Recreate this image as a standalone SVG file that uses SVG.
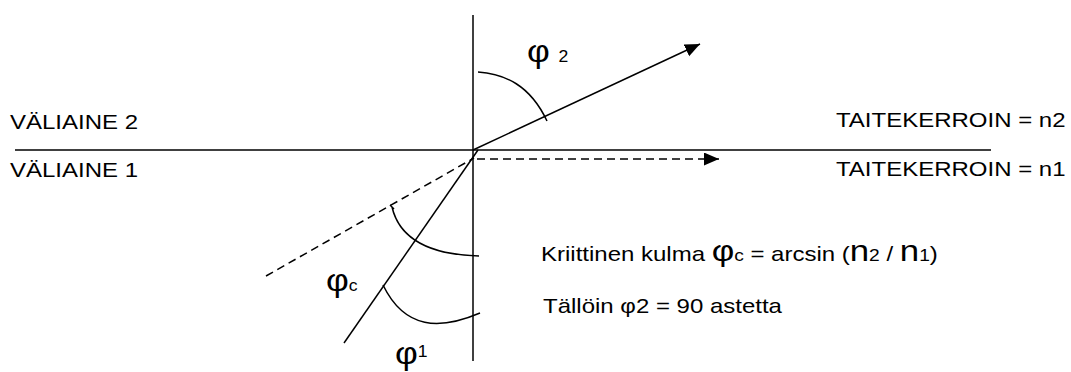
<svg xmlns="http://www.w3.org/2000/svg" width="1071" height="372" viewBox="0 0 1071 372">
  <style>
    .ln { stroke: #000; stroke-width: 1.5; fill: none; }
    .dash { stroke: #000; stroke-width: 1.5; fill: none; stroke-dasharray: 8 5; }
    .t { font-family: "Liberation Sans", Arial, sans-serif; font-size: 20px; fill: #000; }
    .big { font-size: 29px; }
    .lbl { font-size: 32px; }
    .sub { font-size: 16px; }
  </style>
  <defs>
    <marker id="arrow" markerUnits="userSpaceOnUse" markerWidth="16" markerHeight="14" refX="15" refY="6.5" orient="auto">
      <path d="M0,0 L15,6.5 L0,13 Z" fill="#000"/>
    </marker>
  </defs>
  <rect width="1071" height="372" fill="#fff"/>

  <g id="axes">
    <line class="ln" x1="15" y1="150" x2="991" y2="150"/>
    <line class="ln" x1="473" y1="15" x2="473" y2="361"/>
  </g>

  <g id="connectors">
    <line id="refracted" class="ln" x1="473" y1="150" x2="700" y2="44" marker-end="url(#arrow)"/>
    <line id="grazing" class="dash" x1="477" y1="159" x2="719" y2="159" marker-end="url(#arrow)"/>
    <line id="incident" class="ln" x1="344" y1="343" x2="478" y2="150"/>
    <line id="critical" class="dash" x1="266" y1="276" x2="474" y2="158"/>
  </g>

  <g id="angle-arcs">
    <path id="arc-phi2" class="ln" d="M478,72 C505,74 530,85 547,121"/>
    <path id="arc-phic" class="ln" d="M390,205 L394,209 M392,207 Q403,254 479,256"/>
    <path id="arc-phi1" class="ln" d="M383,285 C405,330 440,330 480,313"/>
  </g>

  <g id="labels">
    <text class="t" transform="translate(10,129) scale(1.2,1)">VÄLIAINE 2</text>
    <text class="t" transform="translate(10,177) scale(1.2,1)">VÄLIAINE 1</text>
    <text class="t" transform="translate(836,127) scale(1.2,1)">TAITEKERROIN = n2</text>
    <text class="t" transform="translate(836,176) scale(1.2,1)">TAITEKERROIN = n1</text>
    <text class="t" transform="translate(527,62) scale(1.1,1)"><tspan class="lbl">φ</tspan><tspan class="sub" dx="8">2</tspan></text>
    <text class="t" transform="translate(326,291) scale(1.1,1)"><tspan class="lbl">φ</tspan><tspan class="sub">c</tspan></text>
    <text class="t" transform="translate(395,364) scale(1.1,1)"><tspan class="lbl">φ</tspan><tspan class="sub" dy="-7">1</tspan></text>
    <text class="t" transform="translate(541,261) scale(1.2,1)">Kriittinen kulma <tspan class="big">φ</tspan><tspan class="sub">c</tspan> = arcsin (<tspan class="big">n</tspan><tspan class="sub">2</tspan> / <tspan class="big">n</tspan><tspan class="sub">1</tspan>)</text>
    <text class="t" transform="translate(543,313) scale(1.2,1)">Tällöin φ2 = 90 astetta</text>
  </g>
</svg>
